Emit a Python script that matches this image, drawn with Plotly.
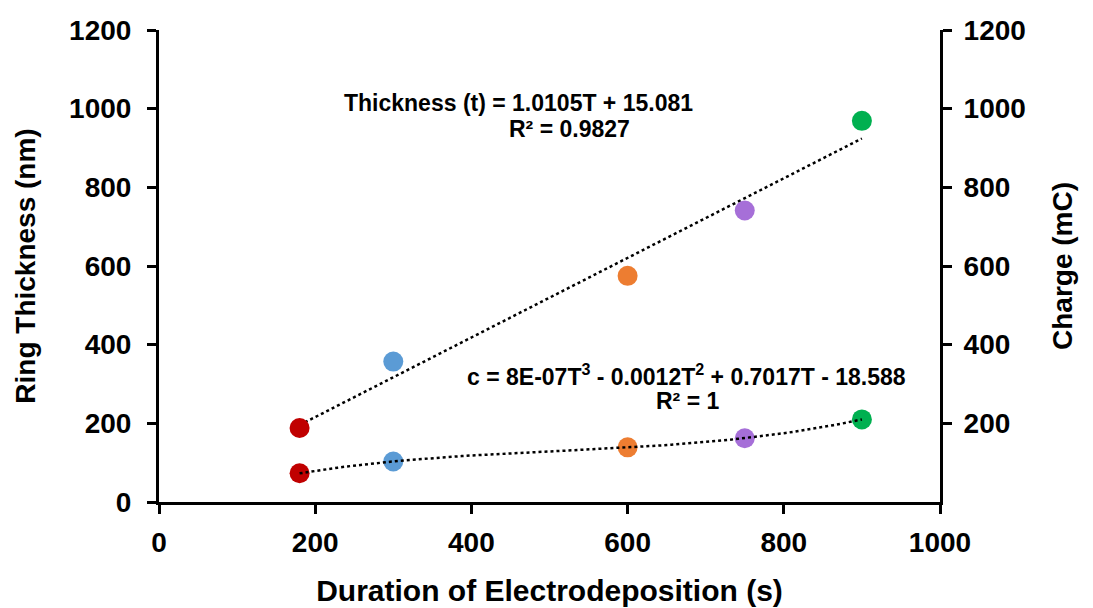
import numpy as np
import plotly.graph_objects as go

# Data
duration = [180, 300, 600, 750, 900]
thickness = [188, 357, 575, 741, 969]
charge = [73, 103, 139, 162, 210]
colors = ["#C00000", "#5B9BD5", "#ED7D31", "#A66FD8", "#00B050"]
y_ticks = [0, 200, 400, 600, 800, 1000, 1200]
y2_ticks = [200, 400, 600, 800, 1000, 1200]
x_ticks = [0, 200, 400, 600, 800, 1000]

FONT = "Liberation Sans"

# Trendlines fitted from data
t_fit = np.polyfit(duration, thickness, 1)
c_fit = np.polyfit(duration, charge, 3)
xs = np.linspace(min(duration), max(duration), 60)

fig = go.Figure()

fig.add_trace(go.Scatter(x=xs, y=np.polyval(t_fit, xs), mode="lines",
                         line=dict(color="black", width=2.5, dash="dot"),
                         showlegend=False, hoverinfo="skip"))
fig.add_trace(go.Scatter(x=duration, y=thickness, mode="markers",
                         marker=dict(color=colors, size=20),
                         showlegend=False))
fig.add_trace(go.Scatter(x=duration, y=charge, mode="markers",
                         marker=dict(color=colors, size=20),
                         showlegend=False, yaxis="y2"))
fig.add_trace(go.Scatter(x=xs, y=np.polyval(c_fit, xs), mode="lines",
                         line=dict(color="black", width=2.5, dash="dot"),
                         showlegend=False, hoverinfo="skip", yaxis="y2"))

axis_common = dict(showline=True, linecolor="black", linewidth=3,
                   ticks="outside", ticklen=9, tickwidth=3, tickcolor="black",
                   showgrid=False, zeroline=False, automargin=False,
                   tickfont=dict(family=FONT, size=28, color="black", weight="bold"))

fig.update_layout(
    width=1093, height=608,
    margin=dict(l=159, r=153, t=30, b=106),
    paper_bgcolor="white", plot_bgcolor="white",
    font=dict(family=FONT, color="black"),
    xaxis=dict(range=[0, 1000], tickvals=x_ticks, **axis_common,
               ticklabelstandoff=4,
               title=dict(text="Duration of Electrodeposition (s)",
                          font=dict(family=FONT, size=30, weight="bold"),
                          standoff=24)),
    yaxis=dict(range=[0, 1200], tickvals=y_ticks, **axis_common,
               ticklabelstandoff=10,
               title=dict(text="Ring Thickness (nm)",
                          font=dict(family=FONT, size=28, weight="bold"),
                          standoff=26)),
    yaxis2=dict(range=[0, 1200], tickvals=y2_ticks,
                overlaying="y", side="right", **axis_common,
                ticklabelstandoff=6,
                title=dict(text="Charge (mC)",
                           font=dict(family=FONT, size=28, weight="bold"),
                           standoff=28)),
)

ann_font = dict(family=FONT, size=23, color="black", weight="bold")
annots = [
    (518, 103, "Thickness (t) = 1.0105T + 15.081"),
    (569, 129, "R² = 0.9827"),
    (686, 375, "c = 8E-07T<sup>3</sup> - 0.0012T<sup>2</sup> + 0.7017T - 18.588"),
    (687, 401, "R² = 1"),
]
for px, py, txt in annots:
    fig.add_annotation(x=(px - 159) / (940 - 159) * 1000,
                       y=(502.6 - py) / (502.6 - 30) * 1200,
                       xref="x", yref="y", text=txt, showarrow=False,
                       font=ann_font)

fig.write_html("out.html", config={"displayModeBar": False},
               post_script="document.body.style.margin='0';")
